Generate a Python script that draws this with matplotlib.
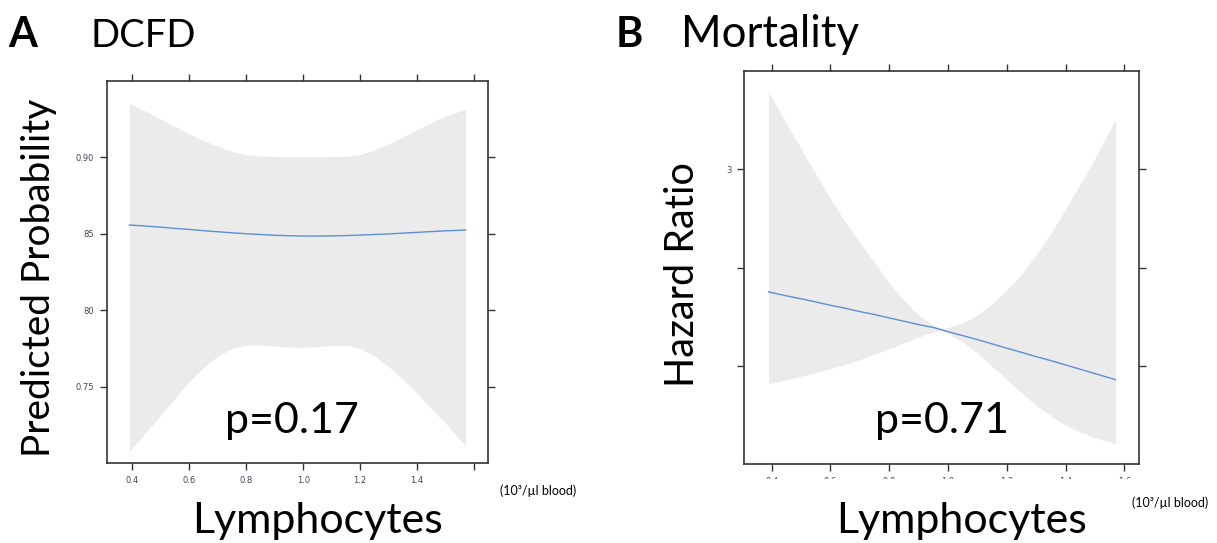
import matplotlib
matplotlib.use("Agg")
import matplotlib.pyplot as plt
from matplotlib.patches import Rectangle

# panel A: DCFD, predicted probability vs lymphocytes
x_a = [0.39, 0.45, 0.5, 0.55, 0.6, 0.65, 0.7, 0.75, 0.8, 0.85, 0.9, 0.95,
       1.0, 1.05, 1.1, 1.15, 1.2, 1.25, 1.3, 1.35, 1.4, 1.45, 1.5, 1.57]
fit_a = [0.8557, 0.8550, 0.8543, 0.8535, 0.8528, 0.8520, 0.8513, 0.8506, 0.8500, 0.8495, 0.8490, 0.8487,
         0.8485, 0.8485, 0.8486, 0.8488, 0.8491, 0.8495, 0.8499, 0.8504, 0.8509, 0.8514, 0.8519, 0.8524]
upper_a = [0.9352, 0.9298, 0.9248, 0.9200, 0.9152, 0.9108, 0.9073, 0.9036, 0.9017, 0.9008, 0.9004, 0.9004,
           0.9004, 0.9004, 0.9004, 0.9006, 0.9017, 0.9047, 0.9087, 0.9134, 0.9182, 0.9226, 0.9269, 0.9313]
lower_a = [0.7076, 0.7207, 0.7316, 0.7425, 0.7534, 0.7627, 0.7701, 0.7751, 0.7771, 0.7771, 0.7766, 0.7760,
           0.7758, 0.7762, 0.7768, 0.7771, 0.7751, 0.7701, 0.7631, 0.7549, 0.7457, 0.7359, 0.7261, 0.7113]
yticks_a = [0.75, 0.80, 0.85, 0.90]
yticklabels_a = ["0.75", "80", "85", "0.90"]

# panel B: mortality, hazard ratio vs lymphocytes
x_b = [0.39, 0.45, 0.5, 0.55, 0.6, 0.65, 0.7, 0.75, 0.8, 0.85, 0.9, 0.95, 0.975,
       1.0, 1.05, 1.1, 1.15, 1.2, 1.25, 1.3, 1.35, 1.4, 1.45, 1.5, 1.57]
fit_b = [2.376, 2.356, 2.341, 2.325, 2.308, 2.293, 2.276, 2.261, 2.244, 2.227, 2.210, 2.195, 2.185,
         2.174, 2.154, 2.134, 2.112, 2.090, 2.069, 2.047, 2.027, 2.005, 1.983, 1.961, 1.930]
upper_b = [3.393, 3.232, 3.105, 2.975, 2.851, 2.732, 2.625, 2.526, 2.422, 2.334, 2.258, 2.207, 2.188,
           2.195, 2.220, 2.258, 2.317, 2.385, 2.466, 2.563, 2.673, 2.795, 2.924, 3.054, 3.253]
lower_b = [1.910, 1.930, 1.947, 1.966, 1.986, 2.008, 2.032, 2.059, 2.086, 2.117, 2.147, 2.171, 2.181,
           2.164, 2.122, 2.066, 1.998, 1.930, 1.863, 1.800, 1.746, 1.698, 1.664, 1.635, 1.605]
yticks_b = [2.0, 2.5, 3.0]
yticklabels_b = ["", "", "3"]

xticks = [0.4, 0.6, 0.8, 1.0, 1.2, 1.4, 1.6]
xticklabels_a = ["0.4", "0.6", "0.8", "1.0", "1.2", "1.4", ""]
xticklabels_b = ["0.4", "0.6", "0.8", "1.0", "1.2", "1.4", "1.6"]

W, H = 1217, 543
FONT = "Lato"
band_col = "#ebebeb"
line_col = "#5b8fd8"
tick_col = "#44445e"

fig = plt.figure(figsize=(W / 100, H / 100), dpi=100)


def px(x, y):
    return x / W, 1 - y / H


def setup(ax, xlabels, yticks, ylabels):
    ax.set_xticks(xticks)
    ax.set_xticklabels(xlabels)
    ax.set_yticks(yticks)
    ax.set_yticklabels(ylabels)
    ax.tick_params(direction="out", length=5, width=1, color="#333333",
                   top=True, right=True, labelsize=6, labelcolor=tick_col, pad=4)
    for s in ax.spines.values():
        s.set_color("#333333")
        s.set_linewidth(1.2)


ax1 = fig.add_axes([106.7 / W, 1 - 463.3 / H, 381.3 / W, 382.6 / H])
ax1.fill_between(x_a, lower_a, upper_a, color=band_col, lw=0)
ax1.plot(x_a, fit_a, color=line_col, lw=1)
ax1.set_xlim(0.31, 1.649)
ax1.set_ylim(0.70, 0.95)
setup(ax1, xticklabels_a, yticks_a, yticklabels_a)

ax2 = fig.add_axes([744.3 / W, 1 - 464.3 / H, 395 / W, 393.6 / H])
ax2.fill_between(x_b, lower_b, upper_b, color=band_col, lw=0)
ax2.plot(x_b, fit_b, color=line_col, lw=1)
ax2.set_xlim(0.307, 1.651)
ax2.set_ylim(1.5, 3.5)
setup(ax2, xticklabels_b, yticks_b, ylabels=yticklabels_b)
ax2.tick_params(axis="x", pad=4.5)

# tick labels of panel B are cut off in the original figure
fig.patches.append(Rectangle(px(735, 495), 420 / W, 16.5 / H, transform=fig.transFigure,
                             facecolor="white", edgecolor="none", zorder=10))

# panel letters and titles
fig.text(*px(8, 47), "A", fontsize=30, fontweight="bold", family=FONT, va="baseline")
fig.text(*px(91, 47), "DCFD", fontsize=27.5, family=FONT, va="baseline")
fig.text(*px(616, 47), "B", fontsize=30, fontweight="bold", family=FONT, va="baseline")
fig.text(*px(681, 47), "Mortality", fontsize=31.5, family=FONT, va="baseline")

# axis labels
fig.text(*px(39, 278), "Predicted Probability", fontsize=28, family=FONT,
         rotation=90, ha="center", va="center")
fig.text(*px(682, 275), "Hazard Ratio", fontsize=28.5, family=FONT,
         rotation=90, ha="center", va="center")
fig.text(*px(317, 533), "Lymphocytes", fontsize=31, family=FONT, ha="center", va="baseline")
fig.text(*px(962, 533), "Lymphocytes", fontsize=31, family=FONT, ha="center", va="baseline")
fig.text(*px(538, 491), "(10³/µl blood)", fontsize=9, family=FONT, ha="center", va="center")
fig.text(*px(1170, 503), "(10³/µl blood)", fontsize=9, family=FONT, ha="center", va="center")

# p-values
fig.text(*px(292, 433), "p=0.17", fontsize=31, family=FONT, ha="center", va="baseline")
fig.text(*px(942, 433), "p=0.71", fontsize=31, family=FONT, ha="center", va="baseline")

fig.savefig("out.png", dpi=100)
